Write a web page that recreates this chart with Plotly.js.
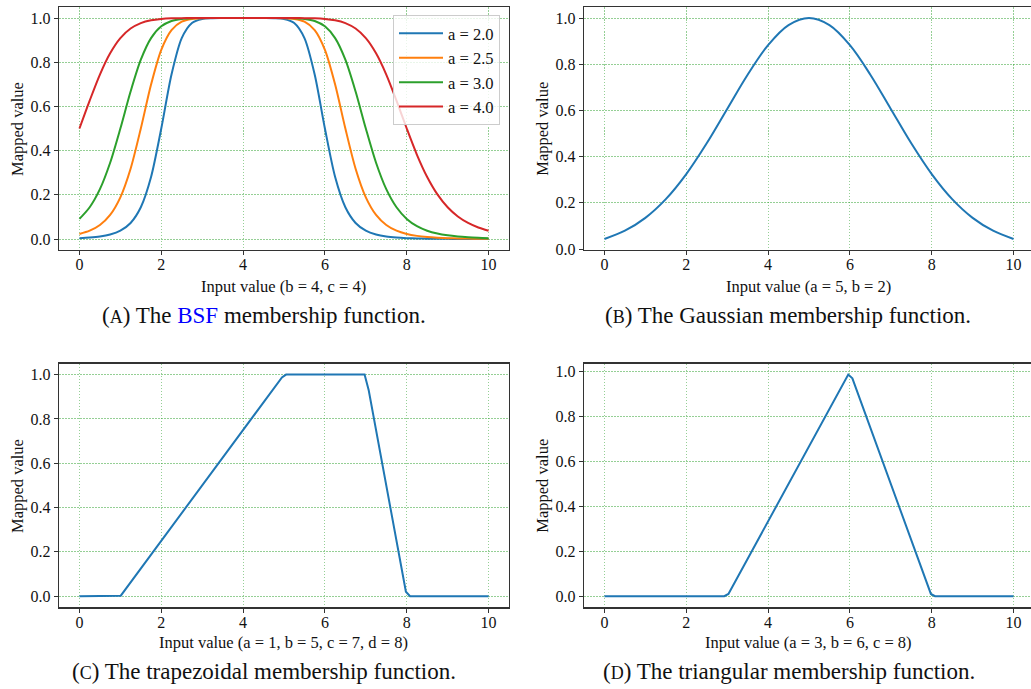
<!DOCTYPE html>
<html>
<head>
<meta charset="utf-8">
<script src="https://cdn.plot.ly/plotly-3.0.1.min.js"></script>
<style>html,body{margin:0;padding:0;background:#fff;}#chart{width:1031px;height:689px;}</style>
</head>
<body>
<div id="chart"></div>
<script>
// ---------- data ----------
const bsfX = [0,0.25,0.5,0.75,1,1.25,1.5,1.75,2,2.25,2.5,2.75,3,3.25,3.5,3.75,4,4.25,4.5,4.75,5,5.25,5.5,5.75,6,6.25,6.5,6.75,7,7.25,7.5,7.75,8,8.25,8.5,8.75,9,9.25,9.5,9.75,10];
const bsfA20 = [0.0039,0.0065,0.0112,0.0202,0.0376,0.0726,0.1437,0.2804,0.5,0.7443,0.909,0.9773,0.9961,0.9996,1,1,1,
                1,1,0.9996,0.9961,0.9773,0.909,0.7443,0.5,0.2804,0.1437,0.0726,0.0376,0.0202,0.0112,0.0065,0.0039,0.0024,0.0015,0.001,0.0007,0.0004,0.0003,0.0002,0.0002];
const bsfA25 = [0.0228,0.0376,0.0635,0.1092,0.1887,0.3181,0.5,0.6991,0.8563,0.9455,0.9835,0.9961,0.9993,0.9999,1,1,1,
                1,1,0.9999,0.9993,0.9961,0.9835,0.9455,0.8563,0.6991,0.5,0.3181,0.1887,0.1092,0.0635,0.0376,0.0228,0.0141,0.009,0.0059,0.0039,0.0026,0.0018,0.0013,0.0009];
const bsfA30 = [0.091,0.1437,0.2256,0.3452,0.5,0.6673,0.8113,0.909,0.9625,0.9868,0.9961,0.9991,0.9998,1,1,1,1,
                1,1,1,0.9998,0.9991,0.9961,0.9868,0.9625,0.909,0.8113,0.6673,0.5,0.3452,0.2256,0.1437,0.091,0.0581,0.0376,0.0247,0.0165,0.0112,0.0078,0.0055,0.0039];
const bsfA40 = [0.5,0.6263,0.7443,0.8404,0.909,0.9524,0.9773,0.9901,0.9961,0.9987,0.9996,0.9999,1,1,1,1,1,
                1,1,1,1,0.9999,0.9996,0.9987,0.9961,0.9901,0.9773,0.9524,0.909,0.8404,0.7443,0.6263,0.5,0.3811,0.2804,0.2018,0.1437,0.102,0.0726,0.052,0.0376];
const bsfNames = ["a = 2.0","a = 2.5","a = 3.0","a = 4.0"];

const gaussX = [0,0.5,1,1.5,2,2.5,3,3.5,4,4.5,5,5.5,6,6.5,7,7.5,8,8.5,9,9.5,10];
const gaussY = [0.0439,0.0796,0.1353,0.2163,0.3247,0.4578,0.6065,0.7548,0.8825,0.9692,1,0.9692,0.8825,0.7548,0.6065,0.4578,0.3247,0.2163,0.1353,0.0796,0.0439];

const trapX = [0,0.9091,1.0101,4.9495,5.0505,6.9697,7.0707,7.9798,8.0808,10];
const trapY = [0,0,0.0025,0.9874,1,1,0.9293,0.0202,0,0];

const triX = [0,2.9293,3.0303,5.9596,6.0606,7.9798,8.0808,10];
const triY = [0,0,0.0101,0.9865,0.9697,0.0101,0,0];

const xTickVals = [0,2,4,6,8,10];
const yTickVals = [0,0.2,0.4,0.6,0.8,1.0];

const xTitles = ["Input value (b = 4, c = 4)","Input value (a = 5, b = 2)","Input value (a = 1, b = 5, c = 7, d = 8)","Input value (a = 3, b = 6, c = 8)"];
const yTitle = "Mapped value";
const captions = [
  "(<span style='font-size:18px'>A</span>) The <span style='color:#0000ff'>BSF</span> membership function.",
  "(<span style='font-size:18px'>B</span>) The Gaussian membership function.",
  "(<span style='font-size:18px'>C</span>) The trapezoidal membership function.",
  "(<span style='font-size:18px'>D</span>) The triangular membership function."
];

// ---------- styling ----------
const W = 1031, H = 689;
const px = v => v / W;
const py = v => 1 - v / H;
const colors = ["#1f77b4","#ff7f0e","#2ca02c","#d62728"];
const serif = "Liberation Serif";
const lw = 2;

const traces = [];
[bsfA20,bsfA25,bsfA30,bsfA40].forEach((ys,i)=>{
  traces.push({x:bsfX,y:ys,type:"scatter",mode:"lines",name:bsfNames[i],
    line:{color:colors[i],width:lw,shape:"spline",smoothing:0.8},xaxis:"x",yaxis:"y",showlegend:true});
});
traces.push({x:gaussX,y:gaussY,type:"scatter",mode:"lines",line:{color:colors[0],width:lw,shape:"spline",smoothing:1},xaxis:"x2",yaxis:"y2",showlegend:false});
traces.push({x:trapX,y:trapY,type:"scatter",mode:"lines",line:{color:colors[0],width:lw},xaxis:"x3",yaxis:"y3",showlegend:false});
traces.push({x:triX,y:triY,type:"scatter",mode:"lines",line:{color:colors[0],width:lw},xaxis:"x4",yaxis:"y4",showlegend:false});

const gridColor = "rgba(44,160,44,0.5)";
const frameColor = "#333333";
function common(){
  return {showgrid:true, gridcolor:gridColor, griddash:"1.5px,1.5px", gridwidth:1, zeroline:false,
    showline:true, linecolor:frameColor, linewidth:1.2,
    ticks:"outside", ticklen:4, tickwidth:1, tickcolor:frameColor,
    tickfont:{family:serif,size:16,color:"#111"}, fixedrange:true};
}
function xa(domain, range, mirror){
  return Object.assign(common(), {domain:domain, range:range, tickmode:"array", tickvals:xTickVals,
    ticktext:xTickVals.map(String), mirror:mirror, ticklabelstandoff:-4});
}
function ya(domain, range, mirror){
  return Object.assign(common(), {domain:domain, range:range, tickmode:"array", tickvals:yTickVals,
    ticktext:yTickVals.map(v=>v.toFixed(1)), mirror:mirror});
}
const dxL = [px(59), px(509)];
const dxR = [px(584), 1];
const dyT = [py(250), py(7)];
const dyB = [py(607.3), py(363.5)];

const layout = {
  width:W, height:H, margin:{l:0,r:0,t:0,b:0}, paper_bgcolor:"#fff", plot_bgcolor:"#fff",
  xaxis: Object.assign(xa(dxL,[-0.5,10.5],true),{anchor:"y"}), yaxis: Object.assign(ya(dyT,[-0.0498,1.05],true),{anchor:"x"}),
  xaxis2: Object.assign(xa(dxR,[-0.5,10.427],true),{anchor:"y2"}), yaxis2: Object.assign(ya(dyT,[-0.0039,1.0478],false),{anchor:"x2"}),
  xaxis3: Object.assign(xa(dxL,[-0.5,10.5],true),{anchor:"y3"}), yaxis3: Object.assign(ya(dyB,[-0.05,1.05],true),{anchor:"x3"}),
  xaxis4: Object.assign(xa(dxR,[-0.5,10.427],true),{anchor:"y4"}), yaxis4: Object.assign(ya(dyB,[-0.0493,1.0358],false),{anchor:"x4"}),
  showlegend:true,
  legend:{x:px(500), xanchor:"right", y:py(15), yanchor:"top", bgcolor:"rgba(255,255,255,0.8)",
    bordercolor:"#cccccc", borderwidth:1, font:{family:serif,size:16.5,color:"#111"}, tracegroupgap:0, itemwidth:44},
  annotations:[]
};

const xTitlePos = [[283.5,286],[808.5,286],[283.7,642.5],[808.7,642.5]];
const yTitlePos = [[17,129],[541.7,129],[17,486],[541.7,486]];
const capPos = [[263.5,315],[788,315],[263.5,671.7],[788.5,671.7]];
for(let i=0;i<4;i++){
  layout.annotations.push({text:xTitles[i], xref:"paper", yref:"paper", x:px(xTitlePos[i][0]), y:py(xTitlePos[i][1]),
    xanchor:"center", yanchor:"middle", showarrow:false, font:{family:serif,size:16.5,color:"#111"}});
  layout.annotations.push({text:yTitle, xref:"paper", yref:"paper", x:px(yTitlePos[i][0]), y:py(yTitlePos[i][1]),
    xanchor:"center", yanchor:"middle", textangle:-90, showarrow:false, font:{family:serif,size:16.5,color:"#111"}});
  layout.annotations.push({text:captions[i], xref:"paper", yref:"paper", x:px(capPos[i][0]), y:py(capPos[i][1]),
    xanchor:"center", yanchor:"middle", showarrow:false, font:{family:serif,size:23,color:"#111"}});
}

Plotly.newPlot("chart", traces, layout, {staticPlot:true, displayModeBar:false});
</script>
</body>
</html>
